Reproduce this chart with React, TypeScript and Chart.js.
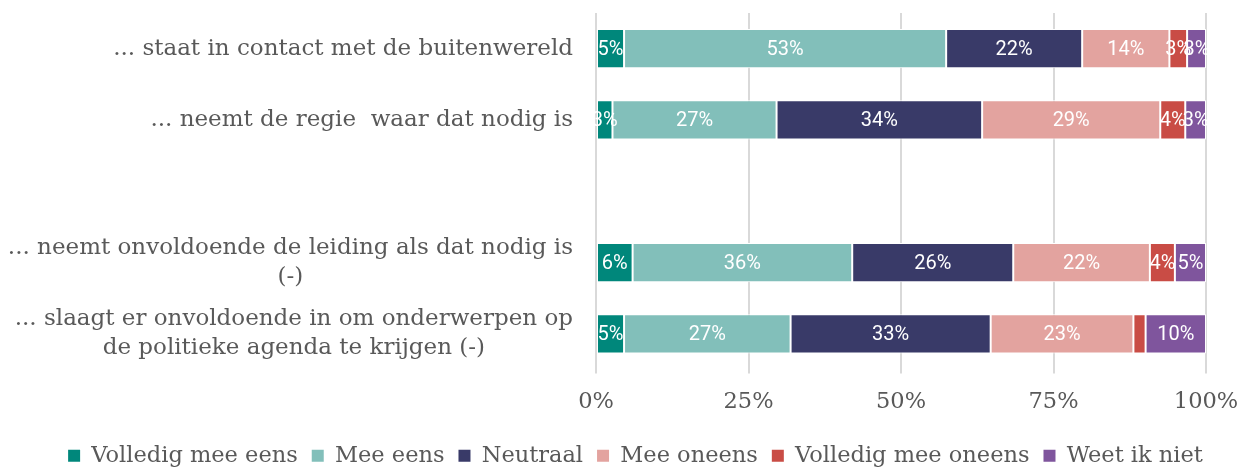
import React, { useEffect, useRef } from 'react';
import { Chart, registerables } from 'chart.js';

Chart.register(...registerables);

// ---- data ----
const categories = ['buitenwereld', 'regie', '', 'leiding', 'agenda'];
const categoryLines: string[][] = [
  ['... staat in contact met de buitenwereld'],
  ['... neemt de regie  waar dat nodig is'],
  [],
  ['... neemt onvoldoende de leiding als dat nodig is', '(-)'],
  ['... slaagt er onvoldoende in om onderwerpen op', 'de politieke agenda te krijgen (-)'],
];
const seriesNames = ['Volledig mee eens', 'Mee eens', 'Neutraal', 'Mee oneens', 'Volledig mee oneens', 'Weet ik niet'];
const seriesColors = ['#00877B', '#82BFBA', '#393A68', '#E3A39F', '#C94C45', '#7F559D'];
const volledigMeeEens = [4.6, 2.7, null, 6.0, 4.6];
const meeEens = [52.8, 26.9, null, 36.0, 27.3];
const neutraal = [22.3, 33.7, null, 26.4, 32.8];
const meeOneens = [14.3, 29.2, null, 22.4, 23.4];
const volledigMeeOneens = [2.9, 4.1, null, 4.1, 2.0];
const weetIkNiet = [3.1, 3.4, null, 5.1, 9.9];
const seriesValues = [volledigMeeEens, meeEens, neutraal, meeOneens, volledigMeeOneens, weetIkNiet];
const xTickValues = [0, 25, 50, 75, 100];

const SERIF = '"DejaVu Serif", serif';
const GREY = '#595959';

const categoryLabelPlugin = {
  id: 'categoryLabels',
  afterDraw(chart: any) {
    const ctx = chart.ctx;
    const yScale = chart.scales.y;
    const rightEdge = chart.chartArea.left - 23;
    const lineHeight = 29;
    ctx.save();
    ctx.font = `23px ${SERIF}`;
    ctx.fillStyle = GREY;
    ctx.textBaseline = 'middle';
    ctx.textAlign = 'center';
    categoryLines.forEach((lines, i) => {
      if (!lines.length) return;
      const yc = yScale.getPixelForValue(i);
      const blockW = Math.max(...lines.map((l) => ctx.measureText(l).width));
      const cx = rightEdge - blockW / 2;
      const y0 = yc - ((lines.length - 1) * lineHeight) / 2;
      lines.forEach((l, j) => ctx.fillText(l, cx, y0 + j * lineHeight));
    });
    ctx.restore();
  },
};

const valueLabelPlugin = {
  id: 'valueLabels',
  afterDraw(chart: any) {
    const ctx = chart.ctx;
    ctx.save();
    ctx.font = '20px Roboto, sans-serif';
    ctx.fillStyle = '#ffffff';
    ctx.textAlign = 'center';
    ctx.textBaseline = 'middle';
    chart.data.datasets.forEach((ds: any, di: number) => {
      const meta = chart.getDatasetMeta(di);
      meta.data.forEach((el: any, i: number) => {
        const v = ds.data[i];
        if (v == null || v < 2.5) return;
        const cx = (el.x + el.base) / 2;
        ctx.fillText(Math.round(v) + '%', cx, el.y + 1);
      });
    });
    ctx.restore();
  },
};

export default function App() {
  const ref = useRef<HTMLCanvasElement>(null);
  useEffect(() => {
    if (!ref.current) return;
    const chart = new Chart(ref.current, {
      type: 'bar',
      data: {
        labels: categories,
        datasets: seriesNames.map((name, i) => ({
          label: name,
          data: seriesValues[i],
          backgroundColor: seriesColors[i],
          borderColor: '#ffffff',
          borderWidth: 1,
          borderSkipped: false,
          categoryPercentage: 0.55,
          barPercentage: 1,
        })),
      },
      options: {
        indexAxis: 'y',
        animation: false,
        responsive: true,
        maintainAspectRatio: false,
        layout: { padding: { left: 30, right: 0, top: 13, bottom: 0 } },
        scales: {
          x: {
            stacked: true,
            min: 0,
            max: 100,
            z: 1,
            afterBuildTicks: (s: any) => {
              s.ticks = xTickValues.map((v) => ({ value: v }));
            },
            afterFit: (s: any) => {
              s.paddingRight = 35;
              s.paddingLeft = 0;
            },
            ticks: {
              callback: (v: any) => v + '%',
              font: { family: SERIF, size: 22.5 },
              color: GREY,
              padding: 15,
            },
            grid: { color: 'rgba(0,0,0,0.15)', lineWidth: 2, tickLength: 4 },
            border: { display: false },
          },
          y: {
            stacked: true,
            display: true,
            ticks: { display: false },
            grid: { display: false },
            border: { display: false },
            afterFit: (s: any) => {
              s.width = 566;
            },
          },
        },
        plugins: {
          legend: {
            position: 'bottom',
            labels: {
              boxWidth: 12,
              boxHeight: 12,
              padding: 14,
              color: GREY,
              font: { family: SERIF, size: 22.5 },
              generateLabels: (c: any) =>
                Chart.defaults.plugins.legend.labels
                  .generateLabels(c)
                  .map((l: any) => ({ ...l, lineWidth: 0, strokeStyle: 'rgba(0,0,0,0)' })),
            },
          },
          tooltip: { enabled: false },
        },
      },
      plugins: [categoryLabelPlugin, valueLabelPlugin],
    });
    return () => chart.destroy();
  }, []);
  return (
    <div style={{ position: 'absolute', left: 0, top: 0, width: 1241, height: 468, overflow: 'hidden' }}>
      <div style={{ position: 'relative', width: 1241, height: 477 }}>
        <canvas ref={ref} />
      </div>
    </div>
  );
}
